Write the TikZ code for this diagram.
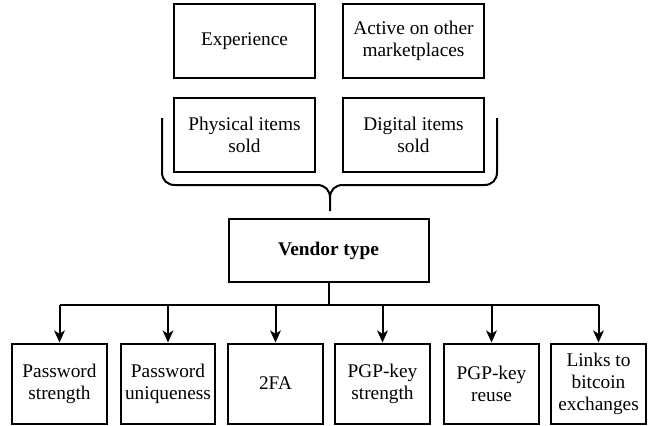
\documentclass[tikz,border=0pt]{standalone}
\usepackage{fontspec}
\setmainfont{Liberation Serif}
\usetikzlibrary{arrows.meta}

\begin{document}
\begin{tikzpicture}[
    x=0.75pt, y=-0.75pt,
    every node/.style={font=\fontsize{14.5}{16.5}\selectfont, align=center},
    topbox/.style={rectangle, draw, line width=1.5pt, minimum width=106pt, minimum height=55pt},
    vendorbox/.style={rectangle, draw, line width=1.5pt, minimum width=150pt, minimum height=47pt},
    factorbox/.style={rectangle, draw, line width=1.5pt, minimum width=71pt, minimum height=60pt, inner sep=1pt},
    arrow/.style={line width=1.5pt, -{Stealth[length=9pt, width=8pt, inset=2.5pt]}}
]
    \useasboundingbox (0,0) rectangle (649,425);

    % Vendor attributes
    \node[topbox] (exp) at (244.5, 41) {Experience};
    \node[topbox] (act) at (413.5, 41) {Active on other\\marketplaces};
    \node[topbox] (phy) at (244.5, 135) {Physical items\\sold};
    \node[topbox] (dig) at (413.5, 135) {Digital items\\sold};

    % Brace
    \coordinate (tip) at (330, 211);
    \draw[line width=1.5pt] (162,118) -- (162,172) .. controls (162,180) and (167,185) .. (175,185)
        -- (317,185) .. controls (325,185) and (330,190) .. (330,198) -- (tip);
    \draw[line width=1.5pt] (497,118) -- (497,172) .. controls (497,180) and (492,185) .. (484,185)
        -- (343,185) .. controls (335,185) and (330,190) .. (330,198);

    % Vendor type
    \node[vendorbox] (vendor) at (328.5, 250.5) {\textbf{Vendor type}};

    % Security factors
    \node[factorbox] (f1) at (59.5, 383.5) {Password\\strength};
    \node[factorbox] (f2) at (168, 383.5) {Password\\uniqueness};
    \node[factorbox] (f3) at (275.5, 383.5) {2FA};
    \node[factorbox] (f4) at (382.5, 383.5) {PGP-key\\strength};
    \node[factorbox] (f5) at (491.5, 383.5) {PGP-key\\reuse};
    \node[factorbox] (f6) at (598.5, 383.5) {Links to\\bitcoin\\exchanges};

    \coordinate (bus) at (330, 305);
    \draw[line width=1.5pt] (vendor.south) -- (vendor.south |- bus);
    \draw[line width=1.5pt] (f1.north |- bus) -- (f6.north |- bus);
    \foreach \i in {1,...,6}
        \draw[arrow] (f\i.north |- bus) -- (f\i.north);
\end{tikzpicture}
\end{document}
